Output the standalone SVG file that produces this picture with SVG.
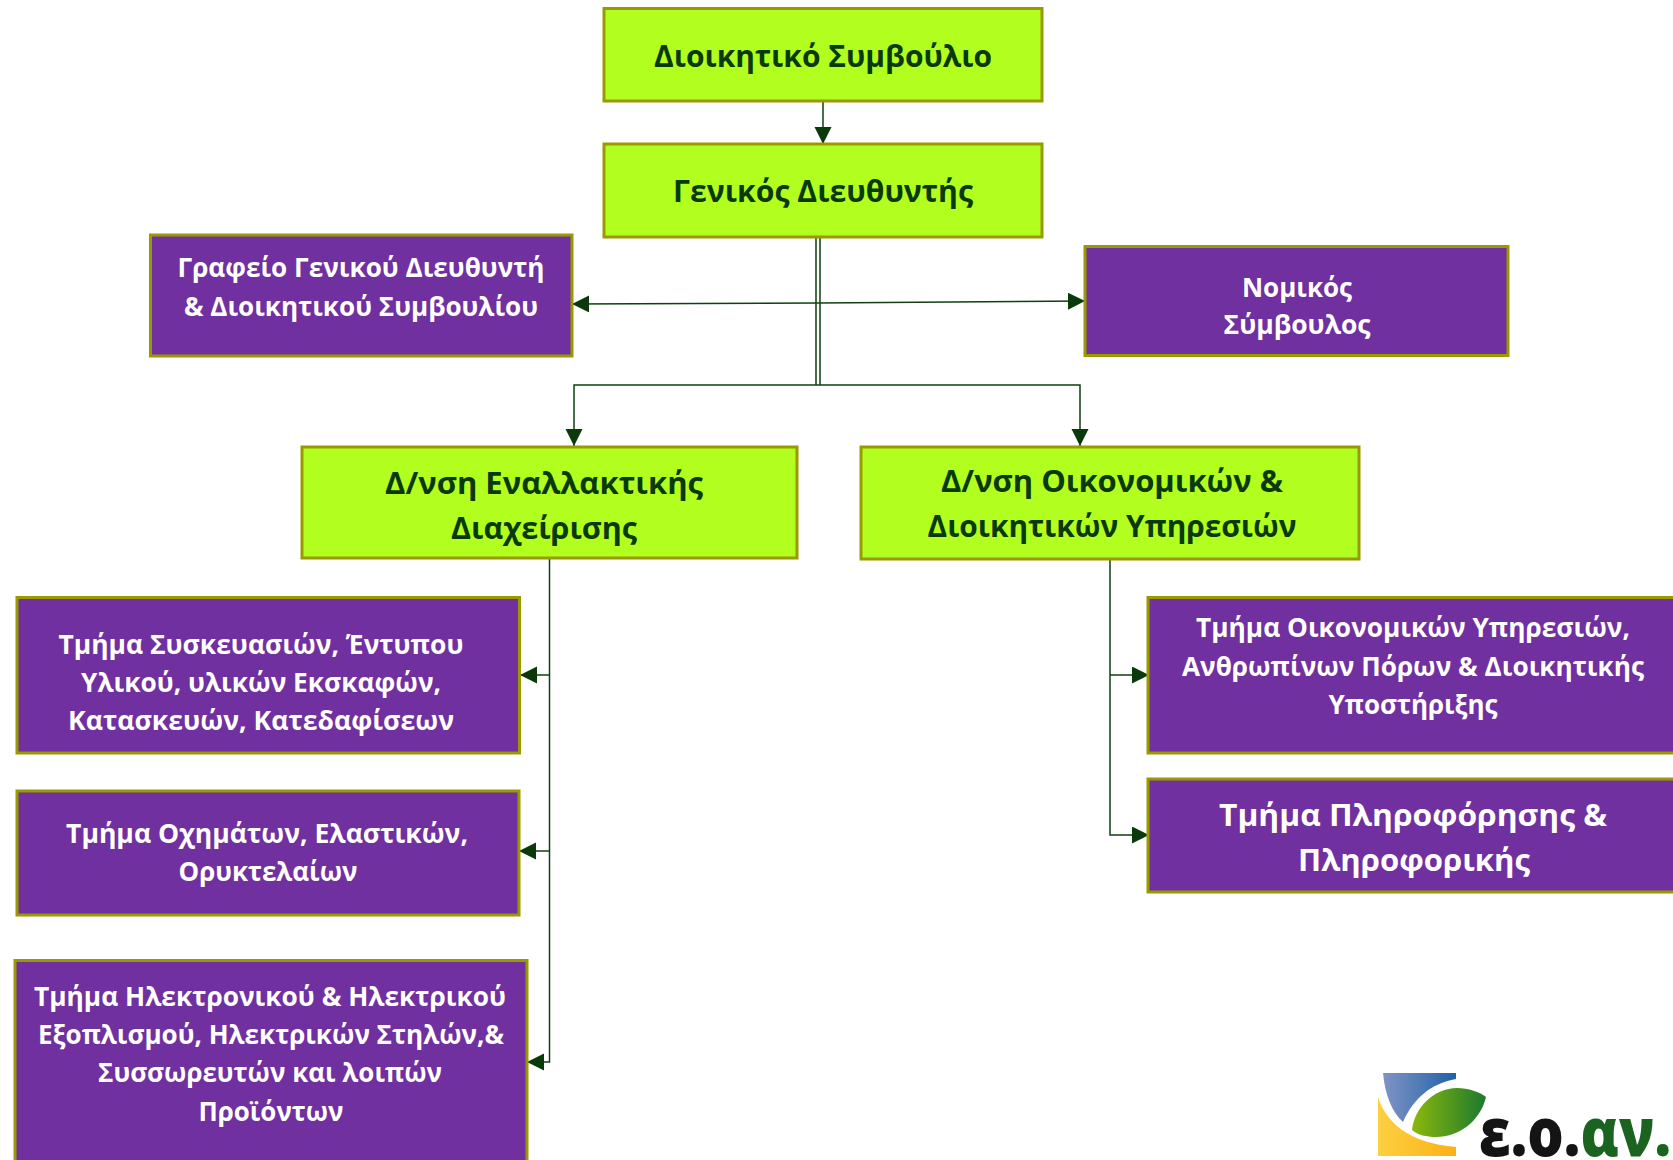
<svg xmlns="http://www.w3.org/2000/svg" width="1673" height="1160" viewBox="0 0 1673 1160">
<style>
text{font-family:"Open Sans","Noto Sans","DejaVu Sans",sans-serif;font-weight:700;text-anchor:middle}
.g rect{fill:#b2ff1f;stroke:#999900;stroke-width:3}
.p rect{fill:#70309f;stroke:#999900;stroke-width:3}
.g text{fill:#0a3a0a;font-size:31px}
.p text{fill:#fff;font-size:27px}
.p text.big{font-size:31px}
.c path{fill:none;stroke:#0f3f12;stroke-width:1.500}
text.l{font-weight:800;font-size:68px;text-anchor:start}
</style>
<defs>
<marker id="a" markerUnits="userSpaceOnUse" markerWidth="18" markerHeight="18" refX="17" refY="8.500" orient="auto"><path d="M0 0L17 8.500L0 17Z" fill="#0a3a0a"/></marker>
<linearGradient id="lb" x1="0" x2="1" y1="0" y2="0"><stop offset="0" stop-color="#8094c4"/><stop offset="1" stop-color="#1f62a8"/></linearGradient>
<linearGradient id="ly" x1="0" x2="1" y1="0" y2="0"><stop offset="0" stop-color="#fcd040"/><stop offset="1" stop-color="#fbb116"/></linearGradient>
<linearGradient id="lg" x1="0" x2="1" y1="0" y2="0"><stop offset="0" stop-color="#8cb80c"/><stop offset="1" stop-color="#1b7a2e"/></linearGradient>
</defs>
<g id="connectors" class="c">
<path d="M823 101V144" marker-end="url(#a)"/>
<path d="M816 236V385M820 236V385"/>
<path d="M816 385H574V446" marker-end="url(#a)"/>
<path d="M816 385H1080V446" marker-end="url(#a)"/>
<path d="M818 303L572 304" marker-end="url(#a)"/>
<path d="M818 303L1085 301" marker-end="url(#a)"/>
<path d="M549.500 558V1062H527" marker-end="url(#a)"/>
<path d="M549.500 675H520" marker-end="url(#a)"/>
<path d="M549.500 851H519" marker-end="url(#a)"/>
<path d="M1110 559V835H1149" marker-end="url(#a)"/>
<path d="M1110 675H1149" marker-end="url(#a)"/>
</g>
<g id="board" class="g"><rect x="604" y="8.500" width="438" height="92.500"/><text x="823" y="67" textLength="338" lengthAdjust="spacingAndGlyphs">Διοικητικό Συμβούλιο</text></g>
<g id="gm" class="g"><rect x="604" y="144" width="438" height="93"/><text x="823" y="202" textLength="300" lengthAdjust="spacingAndGlyphs">Γενικός Διευθυντής</text></g>
<g id="office" class="p"><rect x="150.500" y="235" width="421.500" height="121"/><text x="361" y="277" textLength="367" lengthAdjust="spacingAndGlyphs">Γραφείο Γενικού Διευθυντή</text><text x="361" y="316" textLength="354" lengthAdjust="spacingAndGlyphs">&amp; Διοικητικού Συμβουλίου</text></g>
<g id="legal" class="p"><rect x="1085" y="246.500" width="423" height="109"/><text x="1297" y="297" textLength="110" lengthAdjust="spacingAndGlyphs">Νομικός</text><text x="1297" y="334" textLength="147" lengthAdjust="spacingAndGlyphs">Σύμβουλος</text></g>
<g id="alt" class="g"><rect x="302" y="447" width="495" height="111"/><text x="544" y="494" textLength="318" lengthAdjust="spacingAndGlyphs">Δ/νση Εναλλακτικής</text><text x="544" y="539" textLength="186" lengthAdjust="spacingAndGlyphs">Διαχείρισης</text></g>
<g id="fin" class="g"><rect x="861" y="447" width="498" height="112"/><text x="1112" y="492" textLength="342" lengthAdjust="spacingAndGlyphs">Δ/νση Οικονομικών &amp;</text><text x="1112" y="537" textLength="369" lengthAdjust="spacingAndGlyphs">Διοικητικών Υπηρεσιών</text></g>
<g id="t1" class="p"><rect x="17" y="597.500" width="502.500" height="155.500"/><text x="261" y="654" textLength="405" lengthAdjust="spacingAndGlyphs">Τμήμα Συσκευασιών, Έντυπου</text><text x="261" y="692" textLength="360" lengthAdjust="spacingAndGlyphs">Υλικού, υλικών Εκσκαφών,</text><text x="261" y="730" textLength="386" lengthAdjust="spacingAndGlyphs">Κατασκευών, Κατεδαφίσεων</text></g>
<g id="t2" class="p"><rect x="17" y="791" width="502" height="124"/><text x="267" y="843" textLength="402" lengthAdjust="spacingAndGlyphs">Τμήμα Οχημάτων, Ελαστικών,</text><text x="268" y="881" textLength="179" lengthAdjust="spacingAndGlyphs">Ορυκτελαίων</text></g>
<g id="t3" class="p"><rect x="15" y="960.500" width="512" height="210"/><text x="270" y="1006" textLength="472" lengthAdjust="spacingAndGlyphs">Τμήμα Ηλεκτρονικού &amp; Ηλεκτρικού</text><text x="271" y="1044" textLength="466" lengthAdjust="spacingAndGlyphs">Εξοπλισμού, Ηλεκτρικών Στηλών,&amp;</text><text x="270" y="1082" textLength="344" lengthAdjust="spacingAndGlyphs">Συσσωρευτών και λοιπών</text><text x="271" y="1121" textLength="145" lengthAdjust="spacingAndGlyphs">Προϊόντων</text></g>
<g id="r1" class="p"><rect x="1148" y="597.500" width="540" height="155.500"/><text x="1413" y="637" textLength="434" lengthAdjust="spacingAndGlyphs">Τμήμα Οικονομικών Υπηρεσιών,</text><text x="1413" y="676" textLength="462" lengthAdjust="spacingAndGlyphs">Ανθρωπίνων Πόρων &amp; Διοικητικής</text><text x="1413" y="714" textLength="169" lengthAdjust="spacingAndGlyphs">Υποστήριξης</text></g>
<g id="r2" class="p"><rect x="1148" y="779" width="540" height="113"/><text class="big" x="1413" y="826" textLength="388" lengthAdjust="spacingAndGlyphs">Τμήμα Πληροφόρησης &amp;</text><text class="big" x="1414" y="871" textLength="232" lengthAdjust="spacingAndGlyphs">Πληροφορικής</text></g>
<g id="logo">
<path d="M1383 1073H1456V1079C1430 1084 1414 1098 1403 1122C1392 1112 1385 1095 1383 1073Z" fill="url(#lb)"/>
<path d="M1378 1097C1386 1122 1408 1143 1456 1147V1156H1378Z" fill="url(#ly)"/>
<path d="M1412 1130C1414 1108 1434 1088 1457 1088C1468 1088 1480 1092 1486 1097C1480 1122 1458 1137 1436 1137C1426 1137 1418 1135 1412 1130Z" fill="url(#lg)"/>
<text class="l" x="1479" y="1156" fill="#141414" textLength="192" lengthAdjust="spacingAndGlyphs">ε.ο.<tspan fill="#1a6420">αν.</tspan></text>
</g>
</svg>
